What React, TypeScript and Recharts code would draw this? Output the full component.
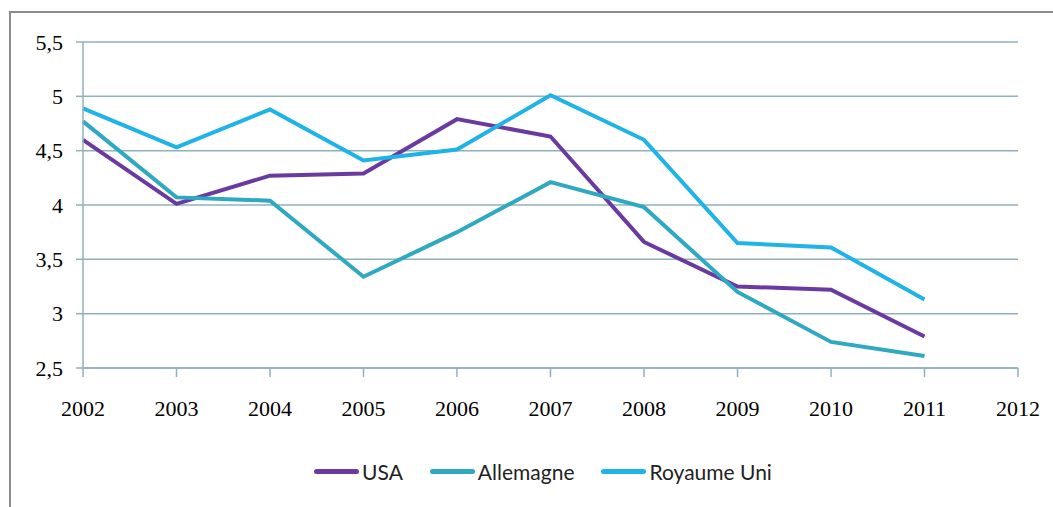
import { CartesianGrid, Legend, Line, LineChart, XAxis, YAxis } from "recharts";

const years = [2002, 2003, 2004, 2005, 2006, 2007, 2008, 2009, 2010, 2011];
const usa = [4.6, 4.01, 4.27, 4.29, 4.79, 4.63, 3.66, 3.25, 3.22, 2.79];
const allemagne = [4.77, 4.07, 4.04, 3.34, 3.75, 4.21, 3.98, 3.2, 2.74, 2.61];
const royaumeUni = [4.89, 4.53, 4.88, 4.41, 4.51, 5.01, 4.6, 3.65, 3.61, 3.13];
const xTicks = [2002, 2003, 2004, 2005, 2006, 2007, 2008, 2009, 2010, 2011, 2012];
const yTicks = [2.5, 3, 3.5, 4, 4.5, 5, 5.5];

const data = years.map((year, i) => ({
  year,
  usa: usa[i],
  allemagne: allemagne[i],
  royaumeUni: royaumeUni[i]
}));

const series = [
  { key: "usa", name: "USA", color: "#6b3aa0" },
  { key: "allemagne", name: "Allemagne", color: "#2fa9c2" },
  { key: "royaumeUni", name: "Royaume Uni", color: "#1fb3e8" }
];

const gridColor = "#8fb0bd";
const tickFont = { fontFamily: "'Liberation Serif', serif", fontSize: 22, fill: "#000" };

function LegendContent() {
  return (
    <div style={{ display: "flex", justifyContent: "center", paddingLeft: 60 }}>
      {series.map((s) => (
        <div key={s.key} style={{ display: "flex", alignItems: "center", marginRight: 27 }}>
          <span
            style={{
              display: "inline-block",
              width: 45,
              height: 5,
              borderRadius: 3,
              background: s.color,
              marginRight: 3
            }}
          />
          <span style={{ fontFamily: "Lato, 'Noto Sans', sans-serif", fontSize: 21, color: "#222" }}>
            {s.name}
          </span>
        </div>
      ))}
    </div>
  );
}

export default function App() {
  return (
    <div style={{ position: "absolute", left: 0, top: 0, width: 1053, height: 507, background: "#fff", overflow: "hidden" }}>
      <div
        style={{
          position: "absolute",
          left: 9,
          top: 11,
          width: 1100,
          height: 600,
          border: "2px solid #8c8c8c"
        }}
      />
      <LineChart width={1053} height={507} data={data} margin={{ top: 42, right: 35, bottom: 89, left: 8 }}>
        <CartesianGrid horizontal vertical={false} stroke={gridColor} strokeWidth={1.5} />
        <XAxis
          dataKey="year"
          type="number"
          domain={[2002, 2012]}
          ticks={xTicks}
          height={50}
          stroke={gridColor}
          strokeWidth={1.5}
          tickSize={9}
          tickMargin={23}
          tick={tickFont}
          interval={0}
        />
        <YAxis
          domain={[2.5, 5.5]}
          ticks={yTicks}
          width={75}
          stroke={gridColor}
          strokeWidth={1.5}
          tickSize={7}
          tickMargin={13}
          tick={tickFont}
          tickFormatter={(v: number) => String(v).replace(".", ",")}
          interval={0}
        />
        <Legend
          verticalAlign="middle"
          align="center"
          layout="horizontal"
          content={<LegendContent />}
          wrapperStyle={{ top: 459, left: 0, width: 1053 }}
        />
        {series.map((s) => (
          <Line
            key={s.key}
            type="linear"
            dataKey={s.key}
            name={s.name}
            stroke={s.color}
            strokeWidth={4}
            dot={false}
            isAnimationActive={false}
          />
        ))}
      </LineChart>
    </div>
  );
}
